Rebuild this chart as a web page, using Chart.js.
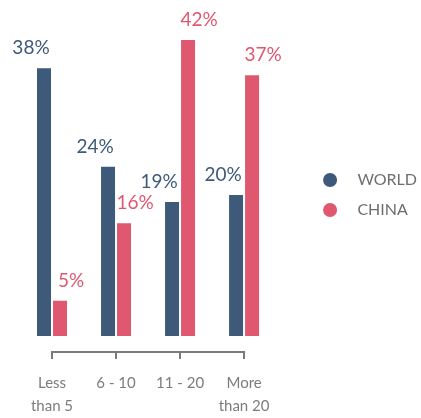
<!DOCTYPE html>
<html>
<head>
<meta charset="utf-8">
<script src="https://cdn.jsdelivr.net/npm/chart.js@4/dist/chart.umd.min.js"></script>
<style>
  html, body { margin: 0; padding: 0; background: #fff; }
  #wrap { width: 421px; height: 418px; }
</style>
</head>
<body>
<div id="wrap"><canvas id="chart"></canvas></div>
<script>
// data
const categories = [['Less', 'than 5'], '6 - 10', '11 - 20', ['More', 'than 20']];
const seriesNames = ['WORLD', 'CHINA'];
const worldValues = [38, 24, 19, 20];
const chinaValues = [5, 16, 42, 37];

const worldColor = '#3d5a7b';
const chinaColor = '#e05770';
const greyLine = '#7a7a7a';

Chart.defaults.font.family = 'Lato, "Open Sans", sans-serif';

// percent labels above the bars, world shifted left, china shifted right
const valueLabels = {
  id: 'valueLabels',
  afterDatasetsDraw(chart) {
    const ctx = chart.ctx;
    ctx.save();
    ctx.font = '19px Lato';
    ctx.textAlign = 'center';
    ctx.textBaseline = 'alphabetic';
    chart.data.datasets.forEach((ds, i) => {
      const shift = i === 0 ? -13 : 11;
      ctx.fillStyle = ds.backgroundColor;
      chart.getDatasetMeta(i).data.forEach((bar, j) => {
        ctx.fillText(ds.data[j] + '%', bar.x + shift, bar.y - 14);
      });
    });
    ctx.restore();
  }
};

// horizontal line of the axis, only from first to last tick
const bracket = {
  id: 'bracket',
  afterDraw(chart) {
    const x = chart.scales.x;
    const ctx = chart.ctx;
    const y = chart.chartArea.bottom;
    ctx.save();
    ctx.strokeStyle = greyLine;
    ctx.lineWidth = 2;
    ctx.beginPath();
    ctx.moveTo(x.getPixelForTick(0) - 1, y);
    ctx.lineTo(x.getPixelForTick(x.ticks.length - 1) + 1, y);
    ctx.stroke();
    ctx.restore();
  }
};

const ctx = document.getElementById('chart').getContext('2d');
new Chart(ctx, {
  type: 'bar',
  data: {
    labels: categories,
    datasets: [{
      label: seriesNames[0],
      data: worldValues,
      backgroundColor: worldColor
    }, {
      label: seriesNames[1],
      data: chinaValues,
      backgroundColor: chinaColor
    }]
  },
  options: {
    responsive: true,
    maintainAspectRatio: false,
    animation: false,
    categoryPercentage: 0.5,
    barPercentage: 0.875,
    layout: { padding: { left: 20, top: 18.8, right: -6, bottom: -13 } },
    scales: {
      x: {
        grid: { offset: false, drawOnChartArea: false, tickLength: 7, color: greyLine, lineWidth: 2 },
        border: { display: false },
        ticks: {
          color: '#7c7c7c',
          padding: 13,
          maxRotation: 0,
          font: { size: 15, lineHeight: 1.53 }
        }
      },
      y: {
        // hidden, only keeps a gap between the bars and the legend
        display: false,
        position: 'right',
        min: -2.3,
        max: 45,
        afterFit: (scale) => { scale.width = 33; }
      }
    },
    plugins: {
      legend: {
        position: 'right',
        fullSize: false,
        align: 'center',
        title: { display: true, text: '', padding: { top: 18, bottom: 0 }, font: { size: 1, lineHeight: 1 } },
        labels: {
          boxWidth: 14,
          boxHeight: 14,
          useBorderRadius: true,
          borderRadius: 7,
          padding: 14,
          color: '#6e6e6e',
          font: { size: 16 },
          generateLabels(chart) {
            const items = Chart.defaults.plugins.legend.labels.generateLabels(chart);
            items.forEach(it => { it.text = '   ' + it.text; });
            return items;
          }
        }
      },
      tooltip: { enabled: false }
    }
  },
  plugins: [valueLabels, bracket]
});
</script>
</body>
</html>
